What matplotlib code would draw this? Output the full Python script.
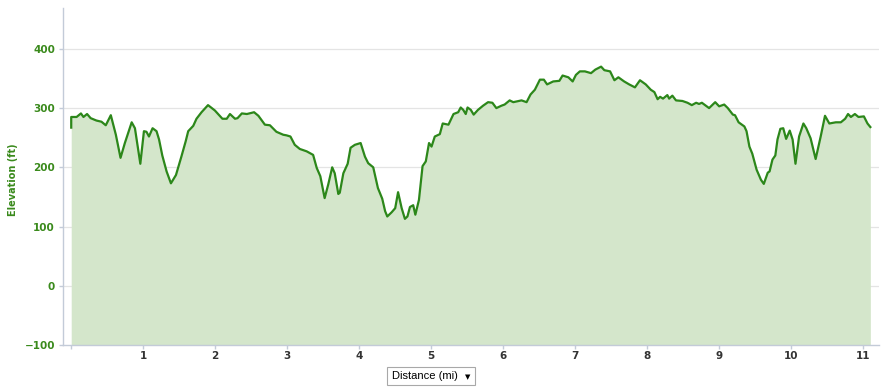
import matplotlib
matplotlib.use("Agg")
import matplotlib.pyplot as plt
from matplotlib.patches import Rectangle

distance_mi = [
    0.00, 0.00, 0.075, 0.135, 0.17, 0.22, 0.27, 0.35, 0.42, 0.48, 0.55, 0.62, 0.685, 0.745,
    0.84, 0.885, 0.96, 1.01, 1.045, 1.08, 1.13, 1.185, 1.22, 1.265, 1.325, 1.385, 1.455,
    1.53, 1.59, 1.625, 1.695, 1.74, 1.81, 1.90, 1.995, 2.10, 2.16, 2.205, 2.275, 2.31,
    2.37, 2.44, 2.54, 2.60, 2.69, 2.76, 2.85, 2.945, 2.99, 3.045, 3.105, 3.175,
    3.27, 3.36, 3.41, 3.46, 3.52, 3.57, 3.625, 3.66, 3.71, 3.73, 3.78, 3.84, 3.88, 3.94,
    4.02, 4.08, 4.125, 4.195, 4.26, 4.32, 4.36, 4.39, 4.45, 4.50, 4.54, 4.59, 4.635,
    4.67, 4.705, 4.75, 4.78, 4.83, 4.88, 4.925, 4.97, 5.005, 5.05, 5.12, 5.16, 5.24,
    5.31, 5.375, 5.41, 5.445, 5.48, 5.505, 5.55, 5.59, 5.65, 5.72, 5.79, 5.85, 5.905,
    5.975, 6.02, 6.09, 6.14, 6.255, 6.325, 6.38, 6.44, 6.51, 6.565, 6.61, 6.695, 6.78,
    6.825, 6.905, 6.965, 7.01, 7.065, 7.135, 7.22, 7.28, 7.36, 7.405, 7.485, 7.545,
    7.60, 7.68, 7.75, 7.83, 7.90, 7.98, 8.05, 8.10, 8.145, 8.18, 8.22, 8.28, 8.305,
    8.35, 8.40, 8.49, 8.56, 8.62, 8.68, 8.72, 8.76, 8.86, 8.945, 9.00, 9.07, 9.12,
    9.19, 9.22, 9.27, 9.35, 9.38, 9.42, 9.46, 9.52, 9.58, 9.62, 9.675, 9.70, 9.74,
    9.78, 9.81, 9.85, 9.89, 9.93, 9.98, 10.02, 10.06, 10.11, 10.17, 10.21, 10.27,
    10.34, 10.41, 10.47, 10.53, 10.62, 10.69, 10.75, 10.79, 10.83, 10.885, 10.935,
    11.01, 11.06, 11.10,
]
elevation_ft = [
    267, 285, 285, 291, 285, 290, 283, 279, 277, 271, 288, 255, 216, 241,
    276, 266, 206, 261, 260, 252, 266, 261, 247, 220, 193, 173, 187,
    218, 244, 261, 270, 282, 293, 305, 296, 282, 282, 290, 282, 283,
    291, 290, 293, 287, 272, 271, 260, 255, 254, 252, 238, 231,
    227, 221, 199, 185, 148, 171, 200, 190, 155, 157, 190, 206, 233, 238,
    241, 218, 207, 200, 165, 147, 126, 117, 124, 131, 158, 131, 113,
    117, 133, 136, 120, 145, 202, 210, 241, 235, 252, 256, 274, 272,
    290, 293, 301, 297, 290, 301, 297, 289, 297, 304, 310, 309, 300,
    304, 306, 313, 310, 313, 310, 323, 331, 348, 348, 340, 345, 346,
    355, 352, 345, 356, 362, 362, 359, 365, 370, 364, 362, 347,
    352, 345, 340, 335, 347, 340, 331, 327, 315, 319, 316, 322, 316,
    321, 313, 312, 309, 305, 309, 307, 309, 300, 310, 303, 306, 300,
    289, 288, 276, 269, 261, 235, 223, 196, 179, 172, 191, 193, 213,
    220, 247, 265, 266, 248, 262, 247, 206, 252, 274, 266, 249,
    214, 252, 287, 274, 276, 276, 282, 290, 285, 290, 285,
    286, 274, 268,
]
x_ticks = list(range(0, 12))
x_tick_labels = [""] + [str(i) for i in range(1, 12)]
y_ticks = [-100, 0, 100, 200, 300, 400]

LINE = "#2c871a"
FILL = "#d4e6cb"
LABEL_GREEN = "#3a8a1c"
SPINE = "#c3cbd8"

fig = plt.figure(figsize=(8.86, 3.88), dpi=100)
ax = fig.add_axes([63.3 / 886, 1 - 345 / 388, (879 - 63.3) / 886, (345 - 8) / 388])

ax.fill_between(distance_mi, elevation_ft, -100, color=FILL, linewidth=0, zorder=1)
ax.plot(distance_mi, elevation_ft, color=LINE, linewidth=1.6, zorder=3, solid_joinstyle="round")

ax.set_xlim(-0.11, 11.22)
ax.set_ylim(-100, 469)

ax.set_yticks(y_ticks)
ax.set_xticks(x_ticks)
ax.set_xticklabels(x_tick_labels)

for y in y_ticks[1:]:
    ax.axhline(y, color="#e4e4e4", linewidth=0.9, zorder=0.5)

for s in ["top", "right"]:
    ax.spines[s].set_visible(False)
for s in ["left", "bottom"]:
    ax.spines[s].set_color(SPINE)
    ax.spines[s].set_linewidth(1.0)
    ax.spines[s].set_zorder(4)

ax.tick_params(axis="y", length=3, width=1, color=SPINE, pad=3,
               labelsize=7.5, labelcolor=LABEL_GREEN)
ax.tick_params(axis="x", length=3, width=1, color=SPINE, pad=1.5,
               labelsize=7.5, labelcolor="#333333")
for lbl in ax.get_yticklabels() + ax.get_xticklabels():
    lbl.set_fontweight("bold")

ax.set_ylabel("Elevation (ft)", color=LABEL_GREEN, fontsize=7, fontweight="bold")
ax.yaxis.set_label_coords(-0.056, 0.49)

fig.text(392 / 886, 1 - 376 / 388, "Distance (mi)", fontsize=8, color="#000000",
         family="Liberation Sans", ha="left", va="center")
fig.text(467.5 / 886, 1 - 377 / 388, "\u25BC", fontsize=5, color="#000000",
         ha="center", va="center")
fig.patches.append(Rectangle((386.5 / 886, 1 - 385 / 388), 88 / 886, 18 / 388,
                             transform=fig.transFigure, fill=False,
                             edgecolor="#a8a8a8", linewidth=0.8))

fig.savefig("out.png", dpi=100)
